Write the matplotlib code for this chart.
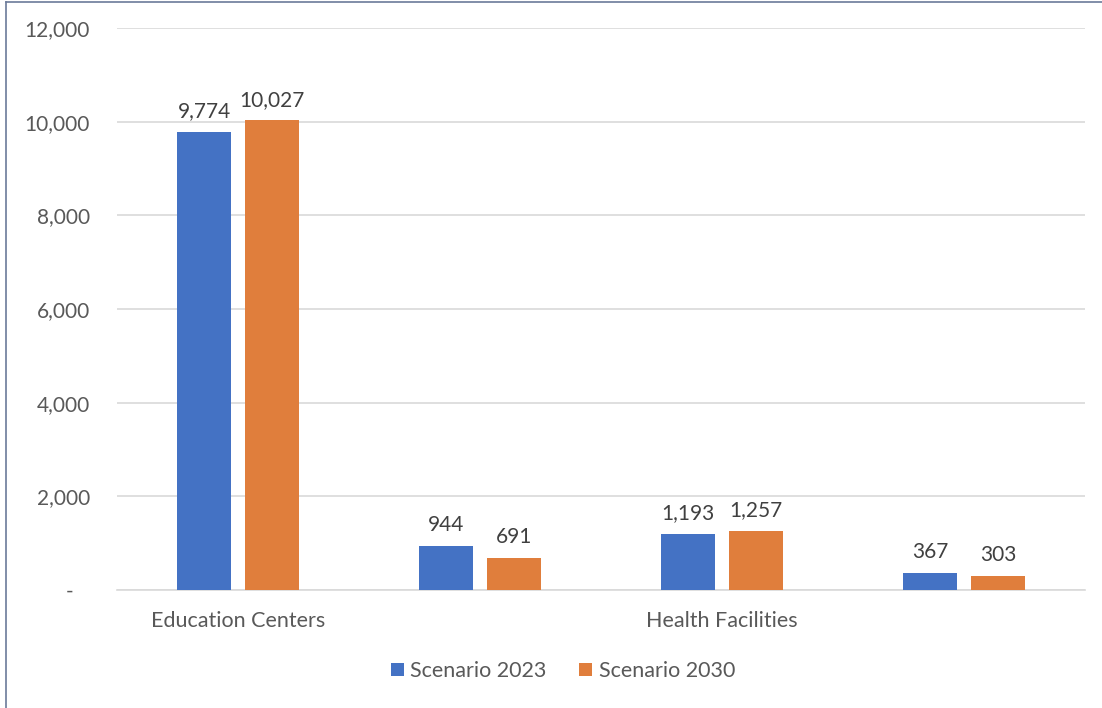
import matplotlib
matplotlib.use("Agg")
import matplotlib.pyplot as plt
from matplotlib.lines import Line2D
import numpy as np

categories = ["Education Centers", "", "Health Facilities", ""]
series_names = ["Scenario 2023", "Scenario 2030"]
scenario_2023 = [9774, 944, 1193, 367]
scenario_2030 = [10027, 691, 1257, 303]
y_ticks = [0, 2000, 4000, 6000, 8000, 10000, 12000]

colors = ["#4472C4", "#E07E3C"]
text_color = "#595959"
value_color = "#404040"

plt.rcParams["font.family"] = ["Lato", "DejaVu Sans"]

fig = plt.figure(figsize=(11.02, 7.08), dpi=100)
ax = fig.add_axes([117 / 1102, 1 - 590 / 708, 968 / 1102, 562 / 708])

x = np.arange(len(categories))
width = 0.224
offset = 0.14
for vals, off, col, name in zip([scenario_2023, scenario_2030], [-offset, offset], colors, series_names):
    bars = ax.bar(x + off, vals, width, color=col, label=name, zorder=3)
    for b, v in zip(bars, vals):
        ax.text(b.get_x() + b.get_width() / 2, v + 230, f"{v:,}", ha="center", va="bottom",
                fontsize=15, color=value_color)

ax.set_xlim(-0.5, len(categories) - 0.5)
ax.set_ylim(0, 12000)
ax.set_yticks(y_ticks)
ax.set_yticklabels(["-   " if t == 0 else f"{t:,}" for t in y_ticks])
ax.set_xticks(x)
ax.set_xticklabels(categories, fontsize=15.5)
ax.grid(axis="y", color="#d9d9d9", linewidth=1.2, zorder=0)
for s in ["top", "right", "left"]:
    ax.spines[s].set_visible(False)
ax.spines["bottom"].set_color("#d9d9d9")
ax.spines["bottom"].set_linewidth(1.2)
ax.tick_params(axis="both", length=0, colors=text_color)
ax.tick_params(axis="y", pad=19.5, labelsize=15)
ax.tick_params(axis="x", pad=15)

leg = fig.legend(loc="center", bbox_to_anchor=(563 / 1102, 1 - 671 / 708), ncol=2, frameon=False,
                 fontsize=15.5, handlelength=0.6, handleheight=0.6, handletextpad=0.3, columnspacing=1.5)
for t in leg.get_texts():
    t.set_color(text_color)

# outer frame edges
fig.add_artist(Line2D([6 / 1102, 6 / 1102], [0, 1 - 2 / 708], transform=fig.transFigure,
                      color="#6b7a99", linewidth=1.2))
fig.add_artist(Line2D([6 / 1102, 1], [1 - 2 / 708, 1 - 2 / 708], transform=fig.transFigure,
                      color="#6b7a99", linewidth=1.2))

fig.savefig("out.png", dpi=100, facecolor="white")
